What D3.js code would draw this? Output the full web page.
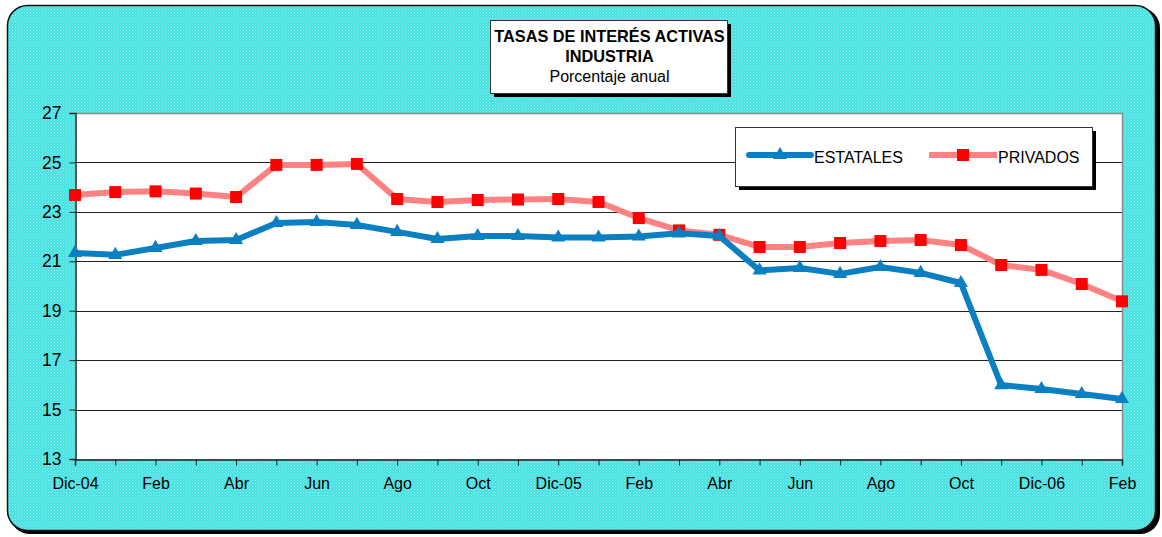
<!DOCTYPE html>
<html>
<head>
<meta charset="utf-8">
<script src="https://cdn.jsdelivr.net/npm/d3@7"></script>
<style>
  html, body { margin: 0; padding: 0; background: #ffffff; }
  svg { display: block; font-family: "Liberation Sans", Arial, sans-serif; }
</style>
</head>
<body>
<svg id="chart" width="1162" height="537"></svg>
<script>
// Month labels (Dic-04 .. Feb-07); only every other one is printed on the axis
const months = ["Dic-04","Ene","Feb","Mar","Abr","May","Jun","Jul","Ago","Sep","Oct","Nov",
                "Dic-05","Ene","Feb","Mar","Abr","May","Jun","Jul","Ago","Sep","Oct","Nov",
                "Dic-06","Ene","Feb"];
const estatales = [21.34,21.26,21.54,21.82,21.86,22.55,22.59,22.47,22.19,21.90,22.02,22.02,
                   21.96,21.96,22.00,22.13,22.02,20.63,20.73,20.49,20.77,20.53,20.12,15.99,
                   15.83,15.63,15.43];
const privados  = [23.68,23.80,23.83,23.74,23.60,24.90,24.90,24.94,23.52,23.40,23.48,23.50,
                   23.52,23.40,22.75,22.25,22.07,21.58,21.58,21.74,21.82,21.86,21.66,20.85,
                   20.65,20.08,19.38];
const yTicks = [13,15,17,19,21,23,25,27];
const titleLines = ["TASAS DE INTERÉS ACTIVAS", "INDUSTRIA", "Porcentaje anual"];
const seriesNames = ["ESTATALES", "PRIVADOS"];

const svg = d3.select("#chart");
const defs = svg.append("defs");

// dotted cyan fill of the chart frame
const pat = defs.append("pattern").attr("id", "dots")
  .attr("width", 3).attr("height", 3).attr("patternUnits", "userSpaceOnUse");
pat.append("rect").attr("width", 3).attr("height", 3).attr("fill", "#47e1e1");
pat.append("rect").attr("x", 0).attr("y", 0).attr("width", 1).attr("height", 1).attr("fill", "#92f0f0");
pat.append("rect").attr("x", 1.5).attr("y", 1.5).attr("width", 1).attr("height", 1).attr("fill", "#86eeee");

// frame with drop shadow
svg.append("rect").attr("x", 10).attr("y", 8).attr("width", 1150).attr("height", 526)
  .attr("rx", 20).attr("fill", "#000");
svg.append("rect").attr("x", 7.5).attr("y", 5.5).attr("width", 1148).attr("height", 525)
  .attr("rx", 20).attr("fill", "url(#dots)").attr("stroke", "#111").attr("stroke-width", 1.5);

const plotL = 75, plotR = 1122, plotT = 113, plotB = 459;

const x = d3.scalePoint().domain(d3.range(months.length)).range([plotL, plotR]);
const y = d3.scaleLinear().domain([13, 27]).range([plotB, plotT]);

// plot area
svg.append("rect").attr("x", plotL).attr("y", plotT).attr("width", plotR - plotL).attr("height", plotB - plotT)
  .attr("fill", "#fff");

// gridlines
svg.append("g").selectAll("line").data(yTicks.filter(v => v > 13 && v < 27)).join("line")
  .attr("x1", plotL).attr("x2", plotR)
  .attr("y1", d => Math.round(y(d)) + 0.5).attr("y2", d => Math.round(y(d)) + 0.5)
  .attr("stroke", "#222").attr("stroke-width", 1);

// plot area border (top / right in gray)
svg.append("path")
  .attr("d", `M${plotL},${plotT + 0.5}H${plotR + 0.5}V${plotB}`)
  .attr("fill", "none").attr("stroke", "#8a8a8a").attr("stroke-width", 1.5);

// y axis
const yAxis = d3.axisLeft(y).tickValues(yTicks).tickSize(6).tickPadding(8).tickFormat(d3.format("d"));
const gy = svg.append("g").attr("transform", `translate(${plotL + 0.5},0)`).call(yAxis);
gy.select(".domain").attr("stroke", "#222").attr("stroke-width", 1.5);
gy.selectAll(".tick line").attr("stroke", "#222");
gy.selectAll(".tick text").attr("font-size", 17.5).attr("fill", "#000")
  .attr("font-family", "Liberation Sans, Arial, sans-serif");

// x axis
const xAxis = d3.axisBottom(x).tickSize(6).tickPadding(12)
  .tickFormat(i => i % 2 === 0 ? months[i] : "");
const gx = svg.append("g").attr("transform", `translate(0,${plotB + 0.5})`).call(xAxis);
gx.select(".domain").attr("stroke", "#222").attr("stroke-width", 1.5);
gx.selectAll(".tick line").attr("stroke", "#222");
gx.selectAll(".tick text").attr("font-size", 16).attr("fill", "#000")
  .attr("font-family", "Liberation Sans, Arial, sans-serif");

// series
const line = d3.line().x((d, i) => x(i)).y(d => y(d));
const blue = "#0a7fc2", pink = "#ff8282", red = "#ff0000";

svg.append("path").datum(privados).attr("d", line)
  .attr("fill", "none").attr("stroke", pink).attr("stroke-width", 6).attr("stroke-linejoin", "round");
svg.append("g").selectAll("rect").data(privados).join("rect")
  .attr("x", (d, i) => x(i) - 6).attr("y", d => y(d) - 6)
  .attr("width", 12).attr("height", 12).attr("fill", red);

svg.append("path").datum(estatales).attr("d", line)
  .attr("fill", "none").attr("stroke", blue).attr("stroke-width", 6).attr("stroke-linejoin", "round");
const tri = d3.symbol().type(d3.symbolTriangle).size(85);
svg.append("g").selectAll("path").data(estatales).join("path")
  .attr("transform", (d, i) => `translate(${x(i)},${y(d)})`)
  .attr("d", tri).attr("fill", blue);

// title box
const tb = { x: 490, y: 20, w: 237, h: 73 };
svg.append("rect").attr("x", tb.x + 4).attr("y", tb.y + 4).attr("width", tb.w).attr("height", tb.h).attr("fill", "#000");
svg.append("rect").attr("x", tb.x + 0.5).attr("y", tb.y + 0.5).attr("width", tb.w).attr("height", tb.h)
  .attr("fill", "#fff").attr("stroke", "#333").attr("stroke-width", 1);
svg.append("g").selectAll("text").data(titleLines).join("text")
  .attr("x", tb.x + tb.w / 2 + 1).attr("y", (d, i) => 42 + i * 20)
  .attr("text-anchor", "middle")
  .attr("font-size", (d, i) => i < 2 ? 16.3 : 16)
  .attr("font-weight", (d, i) => i < 2 ? "bold" : "normal").attr("fill", "#000")
  .text(d => d);

// legend box
const lb = { x: 735, y: 127, w: 357, h: 59 };
svg.append("rect").attr("x", lb.x + 4).attr("y", lb.y + 4).attr("width", lb.w).attr("height", lb.h).attr("fill", "#000");
svg.append("rect").attr("x", lb.x + 0.5).attr("y", lb.y + 0.5).attr("width", lb.w).attr("height", lb.h)
  .attr("fill", "#fff").attr("stroke", "#333").attr("stroke-width", 1);
const ly = 155;
svg.append("line").attr("x1", 749).attr("x2", 811).attr("y1", ly).attr("y2", ly)
  .attr("stroke", blue).attr("stroke-width", 6).attr("stroke-linecap", "round");
svg.append("path").attr("transform", `translate(780,${ly})`).attr("d", tri).attr("fill", blue);
svg.append("text").attr("x", 814).attr("y", 163).attr("font-size", 16).attr("fill", "#000").text(seriesNames[0]);
svg.append("line").attr("x1", 929).attr("x2", 997).attr("y1", ly).attr("y2", ly)
  .attr("stroke", pink).attr("stroke-width", 6);
svg.append("rect").attr("x", 957).attr("y", ly - 6).attr("width", 12).attr("height", 12).attr("fill", red);
svg.append("text").attr("x", 998).attr("y", 163).attr("font-size", 16).attr("fill", "#000").text(seriesNames[1]);
</script>
</body>
</html>
